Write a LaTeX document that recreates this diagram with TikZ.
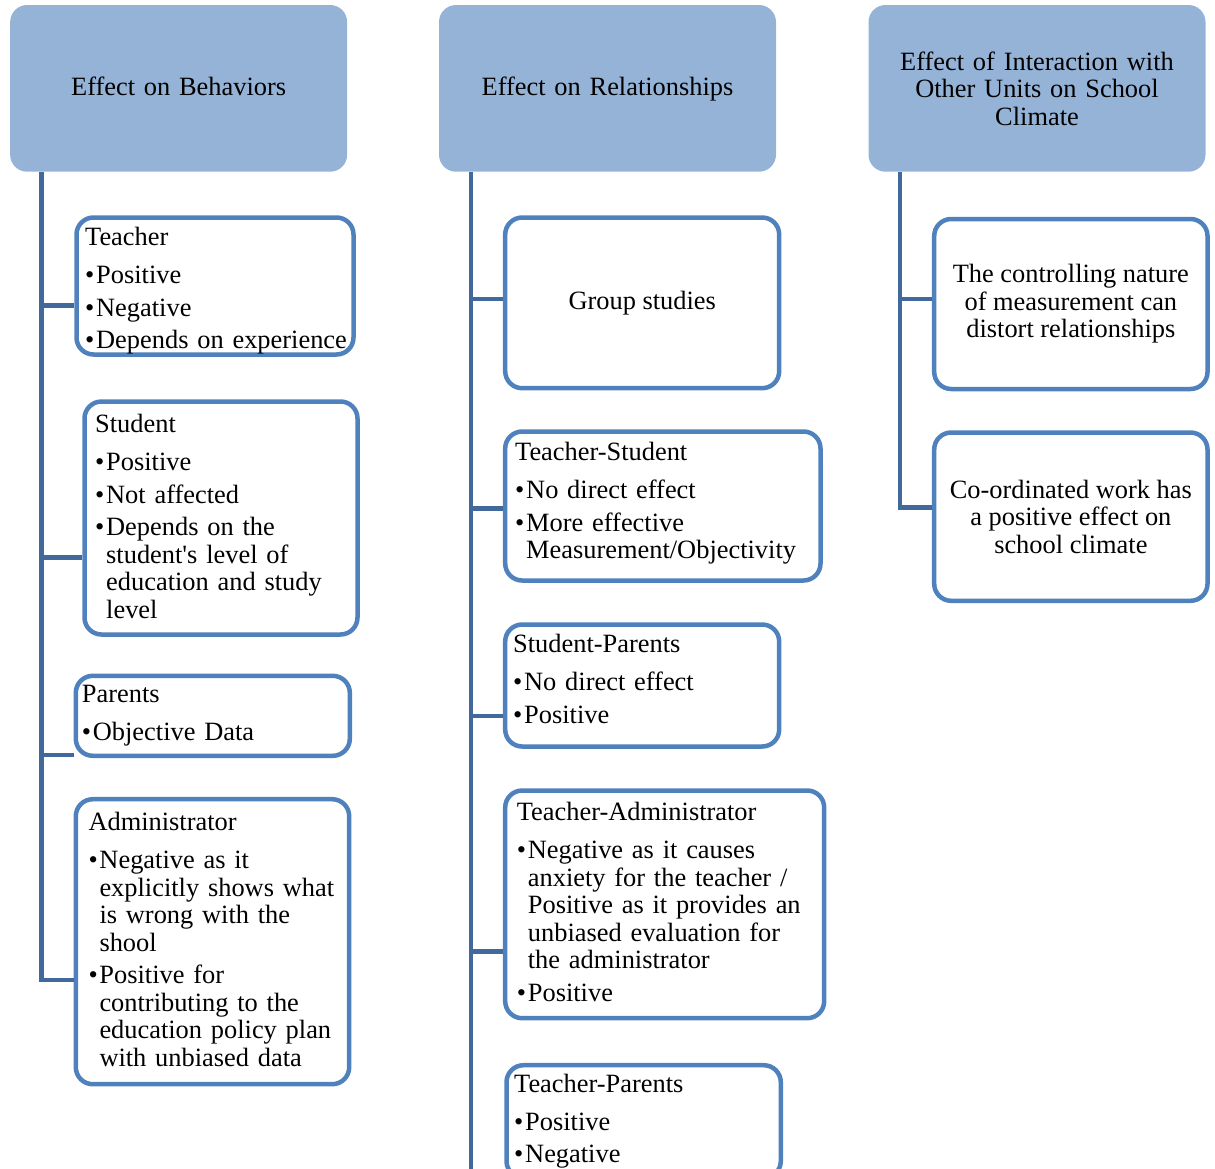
\documentclass[tikz,border=0pt]{standalone}
\usepackage{fontspec}
\setmainfont{Liberation Serif}

\definecolor{headfill}{HTML}{95B3D7}
\definecolor{boxline}{HTML}{4F81BD}
\definecolor{spineblue}{HTML}{41699B}

% box contents: a title line and bullet items with hanging indent
\newcommand{\boxtitle}[1]{\noindent#1\par\vspace{5.5pt}}
\newcommand{\bitem}[1]{\par\vspace{5pt}\hangindent=11pt\hangafter=1\noindent\makebox[11pt][l]{\textbullet}#1\par}

\begin{document}
\begin{tikzpicture}[x=1pt,y=-1pt,
  every node/.style={font=\fontsize{26.4}{27.5}\selectfont},
  headbox/.style={fill=headfill,rounded corners=17pt,inner sep=0pt,minimum width=337,minimum height=166.7,text width=320,align=center},
  oneline/.style={text height=20pt,text depth=5.3pt},
  itembox/.style={draw=boxline,line width=4.5pt,fill=white,rounded corners=17pt,inner sep=0pt},
  itemtext/.style={anchor=base west,inner sep=0pt,text width=300,align=left},
  spine/.style={draw=spineblue,line width=4.5pt}]

\useasboundingbox (0,0) rectangle (1215,1168);
\clip (0,0) rectangle (1215,1168);

% Headers
\node[headbox,oneline] (beh) at (178.65,88.35) {Effect on Behaviors};
\node[headbox,oneline] (rel) at (607.5,88.35) {Effect on Relationships};
\node[headbox] (inter) at (1037,88.35) {Effect of Interaction with\\Other Units on School\\Climate};

% Behaviors column
\node[itembox,minimum width=277,minimum height=137] (teacher) at (215,286) {};
\node[itemtext] (teacher-txt) at (85,245.7) {\boxtitle{Teacher}\bitem{Positive}\bitem{Negative}\bitem{Depends on experience}};

\node[itembox,minimum width=273,minimum height=233] (student) at (221,518) {};
\node[itemtext] (student-txt) at (95,432.7) {\boxtitle{Student}\bitem{Positive}\bitem{Not affected}\bitem{Depends on the\newline student\textquotesingle s level of\newline education and study\newline level}};

\node[itembox,minimum width=274,minimum height=80] (parents) at (212.8,715.8) {};
\node[itemtext] (parents-txt) at (81.7,702) {\boxtitle{Parents}\bitem{Objective Data}};

\node[itembox,minimum width=273.4,minimum height=285] (admin) at (212.5,941.7) {};
\node[itemtext] (admin-txt) at (88.3,830.7) {\boxtitle{Administrator}\bitem{Negative as it\newline explicitly shows what\newline is wrong with the\newline shool}\bitem{Positive for\newline contributing to the\newline education policy plan\newline with unbiased data}};

% Relationships column
\node[itembox,minimum width=274,minimum height=170.7] (group) at (642.2,302.85) {Group studies};

\node[itembox,minimum width=315.3,minimum height=149] (teachstud) at (662.85,506) {};
\node[itemtext] (teachstud-txt) at (515,460.7) {\boxtitle{Teacher-Student}\bitem{No direct effect}\bitem{More effective\newline Measurement/Objectivity}};

\node[itembox,minimum width=274,minimum height=122] (studpar) at (642.2,685.5) {};
\node[itemtext] (studpar-txt) at (513,652.5) {\boxtitle{Student-Parents}\bitem{No direct effect}\bitem{Positive}};

\node[itembox,minimum width=319,minimum height=227.7] (teachadm) at (664.7,904.35) {};
\node[itemtext] (teachadm-txt) at (516.7,820.7) {\boxtitle{Teacher-Administrator}\bitem{Negative as it causes\newline anxiety for the teacher /\newline Positive as it provides an\newline unbiased evaluation for\newline the administrator}\bitem{Positive}};

\node[itembox,minimum width=274.3,minimum height=112.8] (teachpar) at (643.65,1121.6) {};
\node[itemtext] (teachpar-txt) at (514,1092) {\boxtitle{Teacher-Parents}\bitem{Positive}\bitem{Negative}};

% Interaction column
\node[itembox,minimum width=273.3,minimum height=170,align=center] (control) at (1070.85,304) {The controlling nature\\of measurement can\\distort relationships};
\node[itembox,minimum width=273.3,minimum height=168.3,align=center] (coord) at (1070.85,516.65) {Co-ordinated work has\\a positive effect on\\school climate};

% Left spine and branches
\coordinate (l1) at (41.7,305.7);
\coordinate (l2) at (41.7,557.7);
\coordinate (l3) at (41.7,755);
\coordinate (l4) at (41.7,980);
\draw[spine] (beh.south -| l1) -- (l4) -- (l4 -| admin.west);
\draw[spine] (l1) -- (l1 -| teacher.west);
\draw[spine] (l2) -- (l2 -| student.west);
\draw[spine] (l3) -- (l3 -| parents.west);

% Middle spine and branches
\coordinate (m1) at (471,299);
\coordinate (m2) at (471,508.3);
\coordinate (m3) at (471,716);
\coordinate (m4) at (471,951.7);
\coordinate (m5) at (471,1180);
\draw[spine] (rel.south -| m1) -- (m5);
\draw[spine] (m1) -- (m1 -| group.west);
\draw[spine] (m2) -- (m2 -| teachstud.west);
\draw[spine] (m3) -- (m3 -| studpar.west);
\draw[spine] (m4) -- (m4 -| teachadm.west);

% Right spine and branches
\coordinate (r1) at (900,299);
\coordinate (r2) at (900,507.3);
\draw[spine] (inter.south -| r1) -- (r2) -- (r2 -| coord.west);
\draw[spine] (r1) -- (r1 -| control.west);

\end{tikzpicture}
\end{document}
